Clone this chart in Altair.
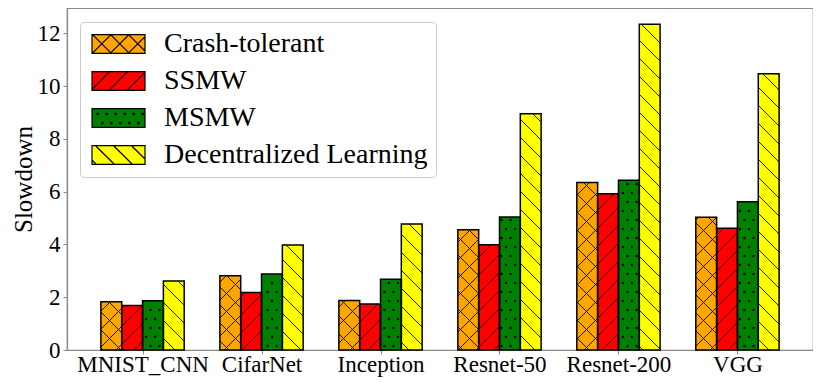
import json
import math
import altair as alt
import pandas as pd

# ---------------- data ----------------
categories = ["MNIST_CNN", "CifarNet", "Inception", "Resnet-50", "Resnet-200", "VGG"]
series = ["Crash-tolerant", "SSMW", "MSMW", "Decentralized Learning"]
crash_tolerant = [1.83, 2.81, 1.88, 4.56, 6.35, 5.03]
ssmw = [1.69, 2.18, 1.74, 3.99, 5.92, 4.61]
msmw = [1.87, 2.88, 2.68, 5.04, 6.43, 5.62]
decentralized = [2.61, 3.98, 4.77, 8.95, 12.34, 10.47]
values = [crash_tolerant, ssmw, msmw, decentralized]
colors = ["#ffa500", "#ff0000", "#008000", "#ffff00"]
edge_colors = ["black", "black", "black", "black"]
hatches = ["x", "/", ".", "\\"]
y_ticks = [0, 2, 4, 6, 8, 10, 12]

# ---------------- layout / style ----------------
FONT = "Liberation Serif"
PLOT_W, PLOT_H = 746, 342
OX, OY = 67, 8
BAR_W = 0.175
X_DOM = [-0.635, len(categories) - 1 + 0.635]
Y_MAX = max(decentralized) * 1.05
HSTEP = 18.0
DSTEP = 9.0


def px(x):
    return OX + (x - X_DOM[0]) / (X_DOM[1] - X_DOM[0]) * PLOT_W


def py(y):
    return OY + PLOT_H - y / Y_MAX * PLOT_H


def dx(p):
    return X_DOM[0] + (p - OX) / PLOT_W * (X_DOM[1] - X_DOM[0])


def dy(p):
    return (OY + PLOT_H - p) / PLOT_H * Y_MAX


def se_lines(L, R, T, B, phase=13.0):
    segs = []
    k0 = math.floor((T - R - phase) / HSTEP) - 1
    k1 = math.ceil((B - L - phase) / HSTEP) + 1
    for k in range(k0, k1 + 1):
        c = phase + k * HSTEP
        xa, xb = max(L, T - c), min(R, B - c)
        if xb - xa > 0.4:
            segs.append((xa, xa + c, xb, xb + c))
    return segs


def ne_lines(L, R, T, B, phase=16.0):
    segs = []
    k0 = math.floor((T + L - phase) / HSTEP) - 1
    k1 = math.ceil((B + R - phase) / HSTEP) + 1
    for k in range(k0, k1 + 1):
        c = phase + k * HSTEP
        xa, xb = max(L, c - B), min(R, c - T)
        if xb - xa > 0.4:
            segs.append((xa, c - xa, xb, c - xb))
    return segs


def dot_grid(L, R, T, B, m=1.8):
    pts = []
    j0 = math.ceil((T + m - 4.0) / DSTEP)
    j1 = math.floor((B - m - 4.0) / DSTEP)
    for j in range(j0, j1 + 1):
        yy = 4.0 + j * DSTEP
        ph = 6.5 if j % 2 == 0 else 2.0
        i0 = math.ceil((L + m - ph) / DSTEP)
        i1 = math.floor((R - m - ph) / DSTEP)
        for i in range(i0, i1 + 1):
            pts.append((ph + i * DSTEP, yy))
    return pts


def hatch_of(h, L, R, T, B):
    if h == "x":
        return se_lines(L, R, T, B) + ne_lines(L, R, T, B), []
    if h == "/":
        return ne_lines(L, R, T, B), []
    if h == "\\":
        return se_lines(L, R, T, B), []
    return [], dot_grid(L, R, T, B)


bar_rows, seg_rows, dot_rows = [], [], []
for si, s in enumerate(series):
    for ci, c in enumerate(categories):
        v = values[si][ci]
        x0 = ci + (si - 2) * BAR_W
        x1 = x0 + BAR_W
        bar_rows.append({"category": c, "series": s, "value": v,
                         "x0": x0, "x1": x1, "xc": (x0 + x1) / 2, "base": 0.0})
        segs, dots = hatch_of(hatches[si], px(x0), px(x1), py(v), py(0))
        for (ax, ay, bx, by) in segs:
            seg_rows.append({"series": s, "xa": dx(ax), "ya": dy(ay), "xb": dx(bx), "yb": dy(by)})
        for (ax, ay) in dots:
            dot_rows.append({"series": s, "xd": dx(ax), "yd": dy(ay)})

bars = pd.DataFrame(bar_rows)
segs_df = pd.DataFrame(seg_rows)
dots_df = pd.DataFrame(dot_rows)

U = 10.0
SW_W, SW_H = 53.0, 18.7
SW_L = 90.7
SW_Y = [41.7, 79.0, 116.0, 152.7]


def swatch_path(h, yc):
    L, R, T, B = SW_L, SW_L + SW_W, yc - SW_H / 2, yc + SW_H / 2
    fx = lambda p: -1 + (p - L) / U
    fy = lambda p: (p - yc) / U
    parts = [f"M{fx(L):.2f},{fy(T):.2f}H{fx(R):.2f}V{fy(B):.2f}H{fx(L):.2f}Z"]
    segs, dots = hatch_of(h, L, R, T, B)
    for (ax, ay, bx, by) in segs:
        parts.append(f"M{fx(ax):.2f},{fy(ay):.2f}L{fx(bx):.2f},{fy(by):.2f}")
    for (ax, ay) in dots:
        parts.append(f"M{fx(ax)-0.07:.2f},{fy(ay)-0.07:.2f}h0.14v0.14h-0.14Z")
    return "".join(parts)


shapes = [swatch_path(h, SW_Y[i]) for i, h in enumerate(hatches)]

x_scale = alt.Scale(domain=X_DOM, nice=False, zero=False)
y_scale = alt.Scale(domain=[0, Y_MAX], nice=False)
color_scale = alt.Scale(domain=series, range=colors)
shape_scale = alt.Scale(domain=series, range=shapes)
stroke_scale = alt.Scale(domain=series, range=edge_colors)

label_expr = json.dumps(categories) + "[round(datum.value)]"
x_axis = alt.Axis(values=list(range(len(categories))), labelExpr=label_expr, title=None,
                  grid=False, labelAngle=0, labelFontSize=23, labelPadding=-1, tickSize=4,
                  labelFlush=False, labelOverlap=False)
y_axis = alt.Axis(values=y_ticks, format="d", title="Slowdown", grid=False,
                  labelFontSize=23, labelPadding=3, tickSize=4,
                  titleFontSize=25, titleX=-44, titleY=PLOT_H / 2, titleAngle=270,
                  titleAlign="center", titleBaseline="middle")

legend = alt.Legend(title=None, symbolStrokeWidth=1.2, symbolSize=400, symbolOpacity=1)

base = alt.Chart(bars)

fill_layer = base.mark_bar().encode(
    x=alt.X("x0:Q", scale=x_scale, axis=x_axis),
    x2="x1:Q",
    y=alt.Y("value:Q", scale=y_scale, axis=y_axis),
    y2="base:Q",
    color=alt.Color("series:N", scale=color_scale, sort=series, legend=legend),
)

hatch_layer = alt.Chart(segs_df).mark_rule(color="black", strokeWidth=0.9).encode(
    x="xa:Q", y="ya:Q", x2="xb:Q", y2="yb:Q"
)

dot_layer = alt.Chart(dots_df).mark_circle(color="black", size=6, opacity=1).encode(
    x="xd:Q", y="yd:Q"
)

outline_layer = base.mark_rect(fillOpacity=0, stroke="black", strokeWidth=1.5).encode(
    x="x0:Q", x2="x1:Q", y="value:Q", y2="base:Q"
)

legend_layer = base.transform_calculate(below="-1").mark_point(
    filled=True, clip=True, opacity=1, strokeWidth=1.2
).encode(
    x="xc:Q",
    y="below:Q",
    color=alt.Color("series:N", scale=color_scale, sort=series, legend=legend),
    shape=alt.Shape("series:N", scale=shape_scale, sort=series, legend=legend),
    stroke=alt.Stroke("series:N", scale=stroke_scale, sort=series, legend=legend),
)

chart = alt.layer(fill_layer, hatch_layer, dot_layer, outline_layer, legend_layer).properties(
    width=PLOT_W, height=PLOT_H,
    autosize=alt.AutoSizeParams(type="none"),
    padding={"left": OX - 8, "top": OY - 8, "right": 0, "bottom": 34},
).configure_view(
    stroke="#888888", strokeWidth=1.2
).configure_axis(
    labelFont=FONT, titleFont=FONT, labelColor="black", titleColor="black",
    titleFontWeight="normal", tickColor="#888888", domainColor="#888888", domainWidth=1.2,
    grid=False,
).configure_legend(
    title=None, orient="none", legendX=13, legendY=14, padding=8, cornerRadius=4,
    strokeColor="#cccccc", fillColor="white", labelFont=FONT, labelFontSize=28,
    labelColor="black", labelOffset=48, symbolOffset=0, symbolSize=400,
    symbolStrokeWidth=1.2, rowPadding=9, labelLimit=0, symbolOpacity=1,
)

chart.save("out.html", embed_options={"renderer": "svg", "actions": False})
